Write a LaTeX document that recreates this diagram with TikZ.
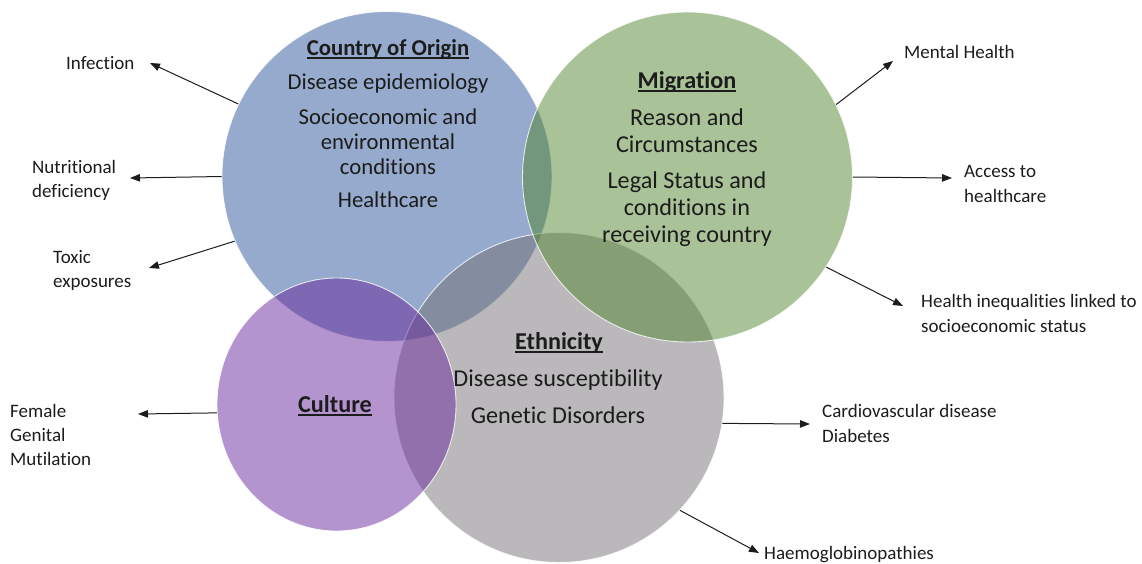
\documentclass[tikz,border=0pt]{standalone}
\usepackage{fontspec}
\setmainfont{Carlito}[Ligatures=NoCommon]
\usetikzlibrary{arrows.meta,shapes.geometric}
\definecolor{cblue}{RGB}{43,85,153}
\definecolor{cgreen}{RGB}{83,133,49}
\definecolor{cgray}{RGB}{117,113,117}
\definecolor{cpurple}{RGB}{105,41,157}
\definecolor{txt}{RGB}{28,28,28}
\newcommand{\mytitle}[1]{\setbox0\hbox{\bfseries #1}\rlap{\rule[-3.5pt]{\wd0}{1.3pt}}\box0}
\begin{document}
\begin{tikzpicture}[x=1pt,y=-1pt,
  venn/.style={circle, minimum size=330pt, inner sep=0pt, draw=white, line width=0.9pt, fill opacity=0.5, draw opacity=0.8},
  main/.style={font=\fontsize{22.7}{25}\selectfont, text=txt, align=center, inner sep=0pt, anchor=base},
  big/.style={main, font=\fontsize{24.2}{27}\selectfont},
  lab/.style={font=\fontsize{19}{24}\selectfont, text=txt, align=left, inner sep=0pt, anchor=base west},
  arr/.style={-{Triangle[length=10pt,width=7.5pt]}, line width=1pt, draw=txt}]
\path[use as bounding box] (0,0) rectangle (1142,563);
% circles
\node[venn, fill=cblue] (origin) at (387,176.5) {};
\node[venn, fill=cgray] (eth) at (559,397.5) {};
\node[venn, fill=cgreen] (mig) at (687.5,177) {};
\node[ellipse, minimum width=239pt, minimum height=253pt, inner sep=0pt, draw=white, line width=0.9pt, fill opacity=0.5, draw opacity=0.8, fill=cpurple] (cult) at (336.5,404.5) {};
% main texts (base = baseline of last line)
\node[main] (o1) at (388,55) {\mytitle{Country of Origin}};
\node[main] (o2) at (388,89) {Disease epidemiology};
\node[main] (o3) at (388,174) {Socioeconomic and\\environmental\\conditions};
\node[main] (o4) at (388,207) {Healthcare};
\node[big] (m1) at (687,88) {\mytitle{Migration}};
\node[big] (m2) at (687,152) {Reason and\\Circumstances};
\node[big] (m3) at (687,242) {Legal Status and\\conditions in\\receiving country};
\node[big] (e1) at (559,349) {\mytitle{Ethnicity}};
\node[big] (e2) at (558,386) {Disease susceptibility};
\node[big] (e3) at (558,423) {Genetic Disorders};
\node[big] (c1) at (335,412) {\mytitle{Culture}};
% outer labels
\node[lab] (inf) at (66,69) {Infection};
\node[lab] (nut) at (32,197) {Nutritional\\deficiency};
\node[lab] (tox) at (53,287) {Toxic\\exposures};
\node[lab] (men) at (904,58) {Mental Health};
\node[lab, font=\fontsize{19}{25}\selectfont] (acc) at (964,202) {Access to\\healthcare};
\node[lab, font=\fontsize{19}{25}\selectfont] (hin) at (921,332) {Health inequalities linked to\\socioeconomic status};
\node[lab, font=\fontsize{19}{25}\selectfont] (car) at (822,442) {Cardiovascular disease\\Diabetes};
\node[lab] (hae) at (764,559) {Haemoglobinopathies};
\node[lab] (fgm) at (10,465) {Female\\Genital\\Mutilation};
% arrow tips
\coordinate (pinf) at (150,63);
\coordinate (pnut) at (130,178);
\coordinate (ptox) at (149,268);
\coordinate (pmen) at (893,61);
\coordinate (pacc) at (952,178);
\coordinate (phin) at (903,306);
\coordinate (pcar) at (810,424);
\coordinate (phae) at (759,553);
\coordinate (pfgm) at (138,414);
% connectors
\draw[arr] (origin.154.1) -- (pinf);
\draw[arr] (origin.180.5) -- (pnut);
\draw[arr] (origin.203.6) -- (ptox);
\draw[arr] (mig.26.3) -- (pmen);
\draw[arr] (mig.0) -- (pacc);
\draw[arr] (mig.-33.8) -- (phin);
\draw[arr] (eth.-9.3) -- (pcar);
\draw[arr] (eth.-43.3) -- (phae);
\draw[arr] (cult.184.5) -- (pfgm);
\end{tikzpicture}
\end{document}
